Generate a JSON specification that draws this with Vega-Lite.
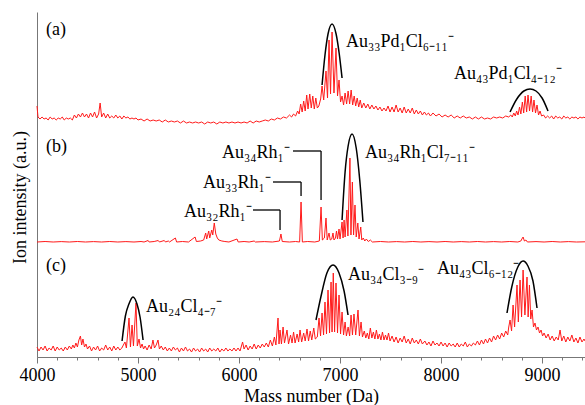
{
"$schema": "https://vega.github.io/schema/vega-lite/v6.json",
"width": 548, "height": 345,
"autosize": {"type": "none"},
"padding": {"left": 37, "top": 12, "right": 0, "bottom": 48},
"config": {"view": {"stroke": null}, "font": "Liberation Serif"},
"datasets": {
"a": [
{"m":4000,"v":20},{"m":4010,"v":9},{"m":4030,"v":7},{"m":4050,"v":9},{"m":4070,"v":7},{"m":4090,"v":8},{"m":4110,"v":6},{"m":4130,"v":9},{"m":4150,"v":7},{"m":4170,"v":8},{"m":4190,"v":6},{"m":4210,"v":8},{"m":4230,"v":7},{"m":4250,"v":9},{"m":4270,"v":6},{"m":4290,"v":8},{"m":4310,"v":7},{"m":4330,"v":8},{"m":4350,"v":6},
{"m":4370,"v":11},{"m":4390,"v":8},{"m":4410,"v":12},{"m":4430,"v":9},{"m":4450,"v":13},{"m":4470,"v":9},{"m":4490,"v":12},{"m":4510,"v":8},{"m":4530,"v":13},{"m":4550,"v":9},{"m":4570,"v":14},{"m":4590,"v":8},{"m":4610,"v":12},{"m":4625,"v":23},{"m":4640,"v":9},{"m":4660,"v":13},{"m":4680,"v":8},{"m":4700,"v":12},{"m":4720,"v":8},
{"m":4740,"v":10},{"m":4760,"v":8},{"m":4780,"v":11},{"m":4800,"v":8},{"m":4820,"v":10},{"m":4840,"v":7},{"m":4860,"v":10},{"m":4880,"v":8},{"m":4900,"v":9},{"m":4920,"v":7},{"m":4940,"v":8},{"m":4960,"v":7},{"m":4980,"v":8},{"m":5000,"v":6},
{"m":5030,"v":7},{"m":5060,"v":5},{"m":5090,"v":7},{"m":5120,"v":5},{"m":5150,"v":6},{"m":5180,"v":5},{"m":5210,"v":6},{"m":5240,"v":4},{"m":5270,"v":6},{"m":5300,"v":4},{"m":5330,"v":5},{"m":5360,"v":4},{"m":5390,"v":5},{"m":5420,"v":3},{"m":5450,"v":5},{"m":5480,"v":3},{"m":5510,"v":4},{"m":5540,"v":3},{"m":5570,"v":4},{"m":5600,"v":3},{"m":5630,"v":4},{"m":5660,"v":2},{"m":5690,"v":4},{"m":5720,"v":3},{"m":5750,"v":4},{"m":5780,"v":2},{"m":5810,"v":4},{"m":5840,"v":3},{"m":5870,"v":4},{"m":5900,"v":3},
{"m":5930,"v":4},{"m":5960,"v":3},{"m":5990,"v":4},{"m":6020,"v":3},{"m":6050,"v":4},{"m":6080,"v":3},{"m":6110,"v":5},{"m":6140,"v":3},{"m":6170,"v":5},{"m":6200,"v":4},{"m":6230,"v":5},
{"m":6260,"v":6},{"m":6290,"v":5},{"m":6320,"v":7},{"m":6350,"v":6},{"m":6380,"v":8},{"m":6410,"v":7},{"m":6440,"v":9},{"m":6470,"v":8},{"m":6500,"v":11},{"m":6520,"v":9},{"m":6540,"v":12},{"m":6560,"v":10},
{"m":6580,"v":15},{"m":6595,"v":12},{"m":6610,"v":22},{"m":6625,"v":14},{"m":6640,"v":25},{"m":6655,"v":15},{"m":6670,"v":31},{"m":6683,"v":17},{"m":6700,"v":32},{"m":6715,"v":18},{"m":6730,"v":30},{"m":6745,"v":17},{"m":6760,"v":28},{"m":6775,"v":18},
{"m":6790,"v":20},{"m":6808,"v":27},{"m":6822,"v":40},{"m":6838,"v":26},{"m":6861,"v":55},{"m":6876,"v":28},{"m":6891,"v":86},{"m":6906,"v":32},{"m":6921,"v":94},{"m":6940,"v":33},{"m":6960,"v":78},{"m":6975,"v":30},{"m":6990,"v":46},{"m":7005,"v":24},
{"m":7020,"v":30},{"m":7035,"v":21},{"m":7050,"v":33},{"m":7065,"v":22},{"m":7080,"v":35},{"m":7095,"v":22},{"m":7110,"v":36},{"m":7125,"v":21},{"m":7140,"v":30},{"m":7155,"v":20},{"m":7170,"v":28},{"m":7185,"v":19},{"m":7200,"v":26},{"m":7215,"v":18},
{"m":7235,"v":23},{"m":7255,"v":18},{"m":7275,"v":22},{"m":7295,"v":17},{"m":7315,"v":21},{"m":7335,"v":17},{"m":7355,"v":20},{"m":7375,"v":16},{"m":7395,"v":19},
{"m":7415,"v":15},{"m":7435,"v":18},{"m":7455,"v":15},{"m":7475,"v":20},{"m":7495,"v":14},{"m":7515,"v":19},{"m":7535,"v":14},{"m":7555,"v":21},{"m":7575,"v":14},{"m":7595,"v":18},{"m":7615,"v":13},{"m":7635,"v":19},{"m":7655,"v":13},{"m":7675,"v":17},{"m":7695,"v":13},{"m":7715,"v":18},{"m":7735,"v":12},{"m":7755,"v":16},{"m":7775,"v":12},{"m":7795,"v":15},{"m":7815,"v":11},{"m":7835,"v":14},{"m":7855,"v":11},{"m":7875,"v":13},{"m":7895,"v":10},
{"m":7920,"v":13},{"m":7950,"v":10},{"m":7980,"v":12},{"m":8010,"v":9},{"m":8040,"v":11},{"m":8070,"v":9},{"m":8100,"v":11},{"m":8130,"v":8},{"m":8160,"v":10},{"m":8190,"v":8},{"m":8220,"v":10},{"m":8250,"v":8},{"m":8280,"v":9},{"m":8310,"v":7},{"m":8340,"v":9},{"m":8370,"v":7},{"m":8400,"v":9},{"m":8430,"v":7},{"m":8460,"v":8},{"m":8490,"v":7},{"m":8520,"v":9},{"m":8550,"v":8},
{"m":8580,"v":9},{"m":8610,"v":8},{"m":8640,"v":10},{"m":8670,"v":9},
{"m":8690,"v":11},{"m":8705,"v":9},{"m":8720,"v":13},{"m":8735,"v":10},{"m":8748,"v":15},{"m":8762,"v":11},{"m":8777,"v":19},{"m":8790,"v":12},{"m":8805,"v":24},{"m":8818,"v":13},{"m":8833,"v":30},{"m":8847,"v":14},{"m":8861,"v":31},{"m":8876,"v":15},{"m":8892,"v":30},{"m":8906,"v":14},{"m":8920,"v":26},{"m":8935,"v":13},{"m":8950,"v":21},{"m":8965,"v":11},{"m":8980,"v":15},{"m":8995,"v":10},
{"m":9015,"v":11},{"m":9035,"v":8},{"m":9055,"v":10},{"m":9075,"v":8},{"m":9095,"v":10},{"m":9115,"v":7},{"m":9135,"v":10},{"m":9155,"v":8},{"m":9175,"v":9},{"m":9195,"v":7},{"m":9215,"v":10},{"m":9235,"v":8},{"m":9255,"v":9},{"m":9275,"v":7},{"m":9295,"v":9},{"m":9315,"v":8},{"m":9335,"v":9},{"m":9355,"v":7},{"m":9375,"v":9},{"m":9395,"v":8},{"m":9415,"v":9},{"m":9425,"v":8}
],
"b": [
{"m":4000,"v":1},{"m":4080,"v":1.5},{"m":4160,"v":1},{"m":4240,"v":1.4},{"m":4320,"v":1},{"m":4400,"v":1.5},{"m":4480,"v":1},{"m":4560,"v":1.4},{"m":4640,"v":1},{"m":4720,"v":1.5},{"m":4800,"v":1},{"m":4880,"v":1.4},{"m":4960,"v":1},{"m":5030,"v":1.5},{"m":5060,"v":1},{"m":5100,"v":2.5},{"m":5110,"v":1},{"m":5160,"v":1.5},{"m":5200,"v":2.5},{"m":5212,"v":1},{"m":5260,"v":2.5},{"m":5272,"v":1},{"m":5300,"v":2},{"m":5312,"v":1},{"m":5370,"v":5},{"m":5382,"v":1},{"m":5440,"v":1.5},{"m":5500,"v":1},{"m":5565,"v":6},{"m":5578,"v":1.5},{"m":5620,"v":2},{"m":5650,"v":3},{"m":5670,"v":10},{"m":5680,"v":4},{"m":5700,"v":12},{"m":5710,"v":5},{"m":5730,"v":13},{"m":5740,"v":8},{"m":5755,"v":20},{"m":5770,"v":9},{"m":5785,"v":5},{"m":5800,"v":3},{"m":5830,"v":2},{"m":5860,"v":1.5},{"m":5900,"v":1},{"m":5980,"v":4},{"m":5992,"v":1},{"m":6050,"v":1.5},{"m":6100,"v":1},{"m":6150,"v":2},{"m":6162,"v":1},{"m":6250,"v":1.4},{"m":6330,"v":1},{"m":6400,"v":2},{"m":6415,"v":9},{"m":6428,"v":1.5},{"m":6500,"v":1},{"m":6560,"v":1.5},{"m":6600,"v":1},{"m":6614,"v":41},{"m":6627,"v":1},{"m":6680,"v":1.5},{"m":6750,"v":1},{"m":6795,"v":2},{"m":6812,"v":36},{"m":6825,"v":3},{"m":6845,"v":5},{"m":6861,"v":25},{"m":6873,"v":3},{"m":6891,"v":10},{"m":6903,"v":3},{"m":6918,"v":4},{"m":6930,"v":10},{"m":6940,"v":3},{"m":6955,"v":5},{"m":6965,"v":12},{"m":6975,"v":4},{"m":6990,"v":14},{"m":7000,"v":4},{"m":7020,"v":21},{"m":7030,"v":5},{"m":7040,"v":23},{"m":7050,"v":6},{"m":7068,"v":33},{"m":7078,"v":7},{"m":7098,"v":85},{"m":7108,"v":8},{"m":7122,"v":61},{"m":7134,"v":8},{"m":7148,"v":38},{"m":7160,"v":6},{"m":7176,"v":20},{"m":7188,"v":4},{"m":7205,"v":16},{"m":7215,"v":3},{"m":7230,"v":5},{"m":7245,"v":2},{"m":7260,"v":4},{"m":7280,"v":1.5},{"m":7300,"v":3},{"m":7320,"v":1},{"m":7400,"v":1.5},{"m":7480,"v":1},{"m":7560,"v":1.4},{"m":7640,"v":1},{"m":7720,"v":1.5},{"m":7800,"v":1},{"m":7880,"v":1.4},{"m":7960,"v":1},{"m":8040,"v":1.5},{"m":8120,"v":1},{"m":8200,"v":1.4},{"m":8280,"v":1},{"m":8360,"v":1.5},{"m":8440,"v":1},{"m":8520,"v":1.4},{"m":8600,"v":1},{"m":8680,"v":1.5},{"m":8760,"v":1},{"m":8790,"v":2},{"m":8800,"v":4},{"m":8812,"v":6},{"m":8825,"v":2},{"m":8840,"v":3},{"m":8855,"v":1},{"m":8940,"v":1.4},{"m":9020,"v":1},{"m":9100,"v":1.5},{"m":9180,"v":1},{"m":9260,"v":1.4},{"m":9340,"v":1},{"m":9425,"v":1.2}
],
"c": [
{"m":4000,"v":10},{"m":4020,"v":6},{"m":4040,"v":10},{"m":4060,"v":7},{"m":4080,"v":11},{"m":4100,"v":6},{"m":4120,"v":9},{"m":4140,"v":7},{"m":4160,"v":11},{"m":4180,"v":6},{"m":4200,"v":10},{"m":4220,"v":7},{"m":4240,"v":9},{"m":4260,"v":6},{"m":4280,"v":10},{"m":4300,"v":7},{"m":4320,"v":11},{"m":4340,"v":8},
{"m":4355,"v":12},{"m":4370,"v":9},{"m":4385,"v":14},{"m":4400,"v":10},{"m":4415,"v":17},{"m":4430,"v":21},{"m":4442,"v":12},{"m":4455,"v":18},{"m":4470,"v":10},{"m":4485,"v":13},
{"m":4500,"v":8},{"m":4520,"v":11},{"m":4540,"v":6},{"m":4560,"v":10},{"m":4580,"v":7},{"m":4600,"v":11},{"m":4620,"v":6},{"m":4640,"v":9},{"m":4660,"v":7},{"m":4680,"v":12},{"m":4700,"v":7},{"m":4720,"v":10},{"m":4740,"v":6},{"m":4760,"v":11},{"m":4780,"v":7},{"m":4800,"v":10},{"m":4820,"v":7},
{"m":4840,"v":9},{"m":4855,"v":12},{"m":4871,"v":15},{"m":4885,"v":9},{"m":4911,"v":39},{"m":4925,"v":10},{"m":4941,"v":32},{"m":4955,"v":11},{"m":4980,"v":54},{"m":4993,"v":11},{"m":5010,"v":18},{"m":5025,"v":9},{"m":5040,"v":13},{"m":5055,"v":8},
{"m":5070,"v":11},{"m":5090,"v":7},{"m":5110,"v":12},{"m":5130,"v":8},{"m":5148,"v":17},{"m":5163,"v":9},{"m":5180,"v":12},{"m":5198,"v":17},{"m":5212,"v":8},{"m":5230,"v":11},
{"m":5250,"v":7},{"m":5270,"v":10},{"m":5290,"v":6},{"m":5310,"v":9},{"m":5330,"v":6},{"m":5350,"v":10},{"m":5370,"v":7},{"m":5390,"v":9},{"m":5410,"v":5},{"m":5430,"v":9},{"m":5450,"v":6},{"m":5470,"v":10},{"m":5490,"v":6},{"m":5510,"v":8},{"m":5530,"v":5},{"m":5550,"v":9},{"m":5570,"v":6},{"m":5590,"v":8},{"m":5610,"v":5},{"m":5630,"v":9},{"m":5650,"v":6},{"m":5670,"v":8},{"m":5690,"v":5},{"m":5710,"v":9},{"m":5730,"v":6},{"m":5750,"v":8},{"m":5770,"v":6},{"m":5790,"v":9},{"m":5810,"v":5},{"m":5830,"v":8},{"m":5850,"v":6},{"m":5870,"v":9},{"m":5890,"v":6},{"m":5910,"v":8},{"m":5930,"v":6},{"m":5950,"v":9},{"m":5970,"v":6},
{"m":5990,"v":9},{"m":6010,"v":6},{"m":6035,"v":15},{"m":6050,"v":8},{"m":6070,"v":12},{"m":6090,"v":7},{"m":6110,"v":11},{"m":6130,"v":8},{"m":6150,"v":13},{"m":6170,"v":8},{"m":6190,"v":12},{"m":6210,"v":9},{"m":6230,"v":13},
{"m":6250,"v":10},{"m":6270,"v":14},{"m":6290,"v":10},{"m":6310,"v":17},{"m":6330,"v":11},{"m":6350,"v":20},{"m":6365,"v":12},{"m":6386,"v":39},{"m":6396,"v":13},{"m":6406,"v":27},{"m":6420,"v":13},{"m":6436,"v":30},{"m":6450,"v":14},{"m":6475,"v":27},{"m":6490,"v":13},{"m":6510,"v":22},{"m":6525,"v":14},{"m":6540,"v":25},{"m":6555,"v":14},{"m":6575,"v":23},{"m":6590,"v":15},{"m":6604,"v":27},{"m":6620,"v":15},{"m":6640,"v":24},{"m":6655,"v":16},{"m":6673,"v":28},{"m":6688,"v":16},{"m":6705,"v":26},{"m":6720,"v":17},{"m":6740,"v":29},{"m":6755,"v":18},
{"m":6775,"v":20},{"m":6792,"v":39},{"m":6807,"v":21},{"m":6822,"v":44},{"m":6837,"v":22},{"m":6851,"v":55},{"m":6866,"v":23},{"m":6881,"v":67},{"m":6896,"v":24},{"m":6911,"v":75},{"m":6921,"v":25},{"m":6933,"v":84},{"m":6946,"v":25},{"m":6960,"v":74},{"m":6975,"v":24},{"m":6990,"v":62},{"m":7005,"v":23},{"m":7020,"v":45},{"m":7035,"v":22},{"m":7050,"v":35},{"m":7063,"v":21},
{"m":7080,"v":30},{"m":7095,"v":21},{"m":7109,"v":42},{"m":7123,"v":22},{"m":7138,"v":43},{"m":7155,"v":22},{"m":7178,"v":47},{"m":7192,"v":21},{"m":7208,"v":35},{"m":7222,"v":20},
{"m":7240,"v":26},{"m":7255,"v":19},{"m":7270,"v":24},{"m":7285,"v":18},{"m":7300,"v":29},{"m":7315,"v":19},{"m":7330,"v":25},{"m":7345,"v":18},{"m":7360,"v":27},{"m":7375,"v":18},{"m":7390,"v":23},{"m":7405,"v":17},{"m":7420,"v":25},{"m":7435,"v":17},{"m":7450,"v":22},{"m":7465,"v":17},{"m":7480,"v":24},{"m":7495,"v":16},
{"m":7515,"v":21},{"m":7535,"v":15},{"m":7555,"v":20},{"m":7575,"v":14},{"m":7595,"v":19},{"m":7615,"v":15},{"m":7635,"v":21},{"m":7655,"v":14},{"m":7675,"v":18},{"m":7695,"v":13},{"m":7715,"v":19},{"m":7735,"v":14},{"m":7755,"v":17},{"m":7775,"v":13},{"m":7795,"v":18},{"m":7815,"v":13},
{"m":7840,"v":16},{"m":7860,"v":12},{"m":7880,"v":15},{"m":7900,"v":11},{"m":7920,"v":16},{"m":7940,"v":12},{"m":7960,"v":14},{"m":7980,"v":11},{"m":8000,"v":15},{"m":8020,"v":11},{"m":8040,"v":14},{"m":8060,"v":10},{"m":8080,"v":14},{"m":8100,"v":11},{"m":8120,"v":13},{"m":8140,"v":10},{"m":8160,"v":14},{"m":8180,"v":10},{"m":8200,"v":13},{"m":8220,"v":11},{"m":8240,"v":15},{"m":8260,"v":10},{"m":8280,"v":13},{"m":8300,"v":11},{"m":8320,"v":14},{"m":8340,"v":12},{"m":8360,"v":16},{"m":8380,"v":12},
{"m":8400,"v":17},{"m":8420,"v":13},{"m":8440,"v":18},{"m":8460,"v":14},{"m":8480,"v":19},{"m":8500,"v":15},{"m":8520,"v":21},{"m":8540,"v":17},{"m":8560,"v":22},{"m":8580,"v":18},{"m":8600,"v":24},{"m":8620,"v":20},{"m":8640,"v":26},{"m":8660,"v":22},
{"m":8670,"v":30},{"m":8683,"v":37},{"m":8698,"v":26},{"m":8713,"v":52},{"m":8728,"v":30},{"m":8752,"v":72},{"m":8765,"v":35},{"m":8782,"v":77},{"m":8797,"v":40},{"m":8812,"v":87},{"m":8830,"v":42},{"m":8851,"v":80},{"m":8862,"v":40},{"m":8875,"v":72},{"m":8888,"v":38},{"m":8901,"v":47},{"m":8915,"v":30},
{"m":8930,"v":34},{"m":8945,"v":27},{"m":8960,"v":30},{"m":8975,"v":24},{"m":8990,"v":27},{"m":9005,"v":21},{"m":9020,"v":24},{"m":9040,"v":19},{"m":9060,"v":23},{"m":9080,"v":17},{"m":9100,"v":21},{"m":9120,"v":16},{"m":9140,"v":20},{"m":9160,"v":17},{"m":9178,"v":27},{"m":9195,"v":16},{"m":9215,"v":21},{"m":9235,"v":15},{"m":9255,"v":20},{"m":9275,"v":16},{"m":9295,"v":22},{"m":9315,"v":15},{"m":9335,"v":19},{"m":9355,"v":14},{"m":9375,"v":20},{"m":9395,"v":15},{"m":9415,"v":18},{"m":9425,"v":16}
],
"arcA": [
{"id":"a1","m":6822,"v":41},{"id":"a1","m":6851,"v":71},{"id":"a1","m":6881,"v":92},{"id":"a1","m":6921,"v":102},{"id":"a1","m":6961,"v":92},{"id":"a1","m":6991,"v":73},{"id":"a1","m":7020,"v":48},
{"id":"a2","m":8683,"v":14},{"id":"a2","m":8750,"v":27},{"id":"a2","m":8820,"v":35},{"id":"a2","m":8881,"v":37},{"id":"a2","m":8940,"v":35},{"id":"a2","m":9000,"v":28},{"id":"a2","m":9059,"v":15}
],
"arcB": [
{"id":"b1","m":7020,"v":23},{"id":"b1","m":7050,"v":71},{"id":"b1","m":7080,"v":97},{"id":"b1","m":7119,"v":109},{"id":"b1","m":7160,"v":95},{"id":"b1","m":7195,"v":63},{"id":"b1","m":7227,"v":21}
],
"arcC": [
{"id":"c1","m":4842,"v":16},{"id":"c1","m":4875,"v":41},{"id":"c1","m":4910,"v":53},{"id":"c1","m":4950,"v":60},{"id":"c1","m":4990,"v":53},{"id":"c1","m":5020,"v":40},{"id":"c1","m":5050,"v":17},
{"id":"c2","m":6762,"v":37},{"id":"c2","m":6810,"v":60},{"id":"c2","m":6870,"v":84},{"id":"c2","m":6931,"v":92},{"id":"c2","m":6990,"v":84},{"id":"c2","m":7040,"v":66},{"id":"c2","m":7079,"v":42},
{"id":"c3","m":8653,"v":44},{"id":"c3","m":8700,"v":70},{"id":"c3","m":8760,"v":90},{"id":"c3","m":8812,"v":96},{"id":"c3","m":8860,"v":91},{"id":"c3","m":8910,"v":76},{"id":"c3","m":8950,"v":49}
],
"labA": [
{"m":4089,"v":96,"t":"(a)"},{"m":7059,"v":84,"t":"Au₃₃Pd₁Cl₆₋₁₁⁻"},{"m":8128,"v":52,"t":"Au₄₃Pd₁Cl₄₋₁₂⁻"}
],
"labB": [
{"m":4089,"v":96,"t":"(b)"},{"m":5832,"v":90,"t":"Au₃₄Rh₁⁻"},{"m":5643,"v":60,"t":"Au₃₃Rh₁⁻"},{"m":5455,"v":31,"t":"Au₃₂Rh₁⁻"},{"m":7247,"v":90,"t":"Au₃₄Rh₁Cl₇₋₁₁⁻"}
],
"labC": [
{"m":4089,"v":91,"t":"(c)"},{"m":5079,"v":50,"t":"Au₂₄Cl₄₋₇⁻"},{"m":7079,"v":82,"t":"Au₃₄Cl₃₋₉⁻"},{"m":7960,"v":88,"t":"Au₄₃Cl₆₋₁₂⁻"}
],
"callB": [
{"m":6534,"m2":6812,"v":92,"v2":92},{"m":6812,"m2":6812,"v":92,"v2":43},
{"m":6336,"m2":6614,"v":61,"v2":61},{"m":6614,"m2":6614,"v":61,"v2":47},
{"m":6138,"m2":6406,"v":33,"v2":33},{"m":6406,"m2":6406,"v":33,"v2":13}
]
},
"layer": [
{"data": {"name": "b"}, "mark": {"type": "line", "color": "#ff1a1a", "strokeWidth": 1},
 "encoding": {
  "x": {"field": "m", "type": "quantitative", "scale": {"domain": [4000, 9425], "nice": false, "zero": false},
   "axis": {"orient": "bottom", "title": null, "values": [4000,4200,4400,4600,4800,5000,5200,5400,5600,5800,6000,6200,6400,6600,6800,7000,7200,7400,7600,7800,8000,8200,8400,8600,8800,9000,9200,9400], "labels": false, "grid": false, "domain": false, "tickSize": 3, "tickColor": "#777"}},
  "y": {"field": "v", "type": "quantitative", "scale": {"domain": [-114, 231], "nice": false, "zero": false}, "axis": null}
 }},
{"data": {"name": "a"}, "mark": {"type": "line", "color": "#ff1a1a", "strokeWidth": 1},
 "encoding": {
  "x": {"field": "m", "type": "quantitative", "scale": {"domain": [4000, 9425], "nice": false, "zero": false},
   "axis": {"orient": "bottom", "title": "Mass number (Da)", "values": [4000,5000,6000,7000,8000,9000], "format": "d", "grid": false, "tickSize": 6, "tickColor": "#777", "domainColor": "#777", "labelFont": "Liberation Serif", "labelFontSize": 18, "labelColor": "black", "labelPadding": 3, "labelFlush": false, "labelOverlap": false, "titleFont": "Liberation Serif", "titleFontSize": 18, "titleFontWeight": "normal", "titleColor": "black", "titlePadding": 3}},
  "y": {"field": "v", "type": "quantitative", "scale": {"domain": [-231, 114], "nice": false, "zero": false},
   "axis": {"orient": "left", "title": "Ion intensity (a.u.)", "labels": false, "ticks": false, "grid": false, "domainColor": "#777", "titleFont": "Liberation Serif", "titleFontSize": 18, "titleFontWeight": "normal", "titleColor": "black", "titlePadding": 8, "titleY": 185}}
 }},
{"data": {"name": "c"}, "mark": {"type": "line", "color": "#ff1a1a", "strokeWidth": 1},
 "encoding": {
  "x": {"field": "m", "type": "quantitative", "scale": {"domain": [4000, 9425], "nice": false, "zero": false}, "axis": null},
  "y": {"field": "v", "type": "quantitative", "scale": {"domain": [0, 345], "nice": false, "zero": false}, "axis": null}
 }},
{"data": {"name": "arcA"}, "mark": {"type": "line", "color": "black", "strokeWidth": 1.5, "interpolate": "monotone"},
 "encoding": {
  "x": {"field": "m", "type": "quantitative", "scale": {"domain": [4000, 9425], "nice": false, "zero": false}, "axis": null},
  "y": {"field": "v", "type": "quantitative", "scale": {"domain": [-231, 114], "nice": false, "zero": false}, "axis": null},
  "detail": {"field": "id"}
 }},
{"data": {"name": "labA"}, "mark": {"type": "text", "align": "left", "baseline": "middle", "font": "Liberation Serif", "fontSize": 18, "color": "black"},
 "encoding": {
  "x": {"field": "m", "type": "quantitative", "scale": {"domain": [4000, 9425], "nice": false, "zero": false}, "axis": null},
  "y": {"field": "v", "type": "quantitative", "scale": {"domain": [-231, 114], "nice": false, "zero": false}, "axis": null},
  "text": {"field": "t"}
 }},
{"data": {"name": "arcB"}, "mark": {"type": "line", "color": "black", "strokeWidth": 1.5, "interpolate": "monotone"},
 "encoding": {
  "x": {"field": "m", "type": "quantitative", "scale": {"domain": [4000, 9425], "nice": false, "zero": false}, "axis": null},
  "y": {"field": "v", "type": "quantitative", "scale": {"domain": [-114, 231], "nice": false, "zero": false}, "axis": null},
  "detail": {"field": "id"}
 }},
{"data": {"name": "callB"}, "mark": {"type": "rule", "color": "black", "strokeWidth": 1.3},
 "encoding": {
  "x": {"field": "m", "type": "quantitative", "scale": {"domain": [4000, 9425], "nice": false, "zero": false}, "axis": null},
  "x2": {"field": "m2"},
  "y": {"field": "v", "type": "quantitative", "scale": {"domain": [-114, 231], "nice": false, "zero": false}, "axis": null},
  "y2": {"field": "v2"}
 }},
{"data": {"name": "labB"}, "mark": {"type": "text", "align": "left", "baseline": "middle", "font": "Liberation Serif", "fontSize": 18, "color": "black"},
 "encoding": {
  "x": {"field": "m", "type": "quantitative", "scale": {"domain": [4000, 9425], "nice": false, "zero": false}, "axis": null},
  "y": {"field": "v", "type": "quantitative", "scale": {"domain": [-114, 231], "nice": false, "zero": false}, "axis": null},
  "text": {"field": "t"}
 }},
{"data": {"name": "arcC"}, "mark": {"type": "line", "color": "black", "strokeWidth": 1.5, "interpolate": "monotone"},
 "encoding": {
  "x": {"field": "m", "type": "quantitative", "scale": {"domain": [4000, 9425], "nice": false, "zero": false}, "axis": null},
  "y": {"field": "v", "type": "quantitative", "scale": {"domain": [0, 345], "nice": false, "zero": false}, "axis": null},
  "detail": {"field": "id"}
 }},
{"data": {"name": "labC"}, "mark": {"type": "text", "align": "left", "baseline": "middle", "font": "Liberation Serif", "fontSize": 18, "color": "black"},
 "encoding": {
  "x": {"field": "m", "type": "quantitative", "scale": {"domain": [4000, 9425], "nice": false, "zero": false}, "axis": null},
  "y": {"field": "v", "type": "quantitative", "scale": {"domain": [0, 345], "nice": false, "zero": false}, "axis": null},
  "text": {"field": "t"}
 }}
],
"resolve": {"scale": {"y": "independent"}, "axis": {"x": "independent", "y": "independent"}}
}
